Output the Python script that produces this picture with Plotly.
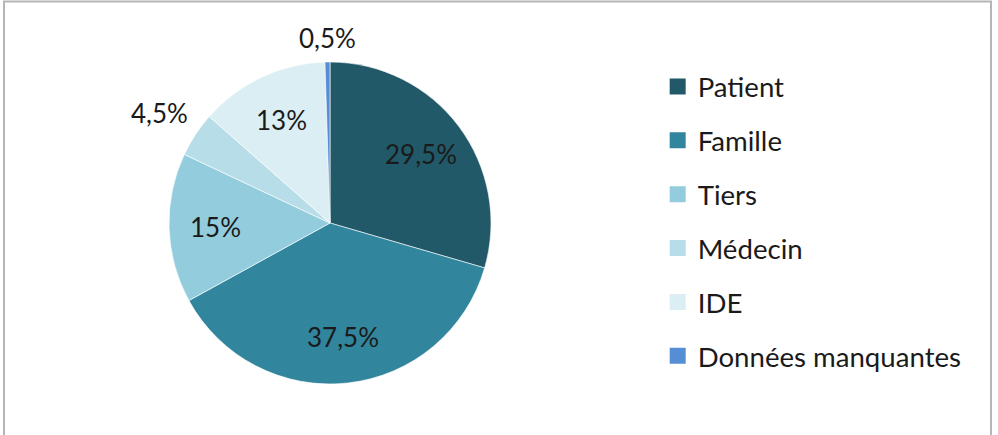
import math
import plotly.graph_objects as go

labels = ["Patient", "Famille", "Tiers", "Médecin", "IDE", "Données manquantes"]
values = [29.5, 37.5, 15, 4.5, 13, 0.5]
text_labels = ["29,5%", "37,5%", "15%", "4,5%", "13%", "0,5%"]
colors = ["#215968", "#31859C", "#93CDDD", "#B7DEE8", "#DAEEF3", "#558ED5"]
outside_label = [False, False, False, True, False, True]

W, H = 998, 435
cx, cy, r = 330, 223, 161
FONT = "Lato"
TXT_COLOR = "#1a1a1a"

fig = go.Figure()
fig.add_trace(go.Pie(
    labels=labels,
    values=values,
    text=text_labels,
    textinfo="none",
    sort=False,
    direction="clockwise",
    rotation=0,
    showlegend=False,
    marker=dict(colors=colors, line=dict(color="rgba(255,255,255,0.6)", width=1)),
    domain=dict(x=[(cx - r) / W, (cx + r) / W], y=[(H - cy - r) / H, (H - cy + r) / H]),
    hoverinfo="label+text",
))

# data labels placed at each slice's mid-angle (Excel-like positioning)
annotations = []
total = sum(values)
cum = 0.0
for v, t, o in zip(values, text_labels, outside_label):
    mid = (cum + v / 2) / total * 2 * math.pi
    cum += v
    s, c = math.sin(mid), math.cos(mid)
    if o:
        rr = r + 6
        xa = "center" if abs(s) < 0.3 else ("left" if s > 0 else "right")
        ya = "middle" if abs(c) < 0.3 else ("bottom" if c > 0 else "top")
    else:
        rr = r * 0.71
        xa, ya = "center", "middle"
    px = cx + rr * s
    py = cy - rr * c
    annotations.append(dict(
        x=px / W, y=(H - py) / H, xref="paper", yref="paper",
        text=t, showarrow=False, xanchor=xa, yanchor=ya,
        font=dict(family=FONT, size=26, color=TXT_COLOR),
    ))

# legend entries (one group per category so that the group gap spaces them)
for lab, col in zip(labels, colors):
    fig.add_trace(go.Scatter(
        x=[None], y=[None], mode="markers", name=lab, legendgroup=lab,
        marker=dict(symbol="square", size=16, color=col),
        showlegend=True, hoverinfo="skip",
    ))

fig.update_layout(
    width=W, height=H,
    margin=dict(l=0, r=0, t=0, b=0),
    paper_bgcolor="white",
    plot_bgcolor="white",
    font=dict(family=FONT, color=TXT_COLOR),
    xaxis=dict(visible=False),
    yaxis=dict(visible=False),
    annotations=annotations,
    legend=dict(
        x=0.659, y=(H - 62) / H, xanchor="left", yanchor="top",
        font=dict(family=FONT, size=27.6, color=TXT_COLOR),
        traceorder="grouped",
        tracegroupgap=15,
        itemwidth=30,
        bgcolor="rgba(0,0,0,0)",
    ),
    shapes=[dict(
        type="rect", xref="paper", yref="paper",
        x0=4 / W, x1=991 / W, y0=-0.05, y1=1 - 1.5 / H,
        line=dict(color="#b5b5b5", width=2),
    )],
)

fig.write_html("out.html")
